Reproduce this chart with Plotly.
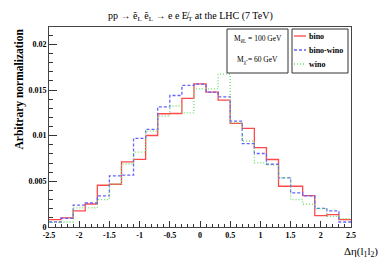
import numpy as np
import plotly.graph_objects as go

# Bin edges of delta-eta histogram (25 bins of width 0.2 from -2.5 to 2.5)
x_min, x_max, n_bins = -2.5, 2.5, 25

bino = [0.00081, 0.00100, 0.00176, 0.00252, 0.00457, 0.00468, 0.00713, 0.00740,
        0.01002, 0.01240, 0.01243, 0.01408, 0.01568, 0.01476, 0.01389, 0.01134,
        0.01079, 0.00870, 0.00739, 0.00446, 0.00446, 0.00344, 0.00125, 0.00136,
        0.00081]
bino_wino = [0.00055, 0.00096, 0.00240, 0.00263, 0.00340, 0.00560, 0.00567, 0.00970,
             0.01068, 0.01316, 0.01440, 0.01550, 0.01565, 0.01476, 0.01425, 0.01160,
             0.00914, 0.00805, 0.00687, 0.00537, 0.00373, 0.00340, 0.00205, 0.00176,
             0.00055]
wino = [0.00050, 0.00055, 0.00210, 0.00210, 0.00300, 0.00470, 0.00690, 0.00820,
        0.01050, 0.01214, 0.01325, 0.01250, 0.01512, 0.01512, 0.01674, 0.01140,
        0.00940, 0.00702, 0.00680, 0.00537, 0.00300, 0.00249, 0.00200, 0.00117,
        0.00092]

series_names = ["bino", "bino-wino", "wino"]

x_ticks = [-2.5, -2, -1.5, -1, -0.5, 0, 0.5, 1, 1.5, 2, 2.5]
x_tick_labels = ["-2.5", "-2", "-1.5", "-1", "-0.5", "0", "0.5", "1", "1.5", "2", "2.5"]
y_ticks = [0, 0.005, 0.01, 0.015, 0.02]
y_tick_labels = ["0", "0.005", "0.01", "0.015", "0.02"]

edges = np.linspace(x_min, x_max, n_bins + 1)

FONT = "Liberation Serif"
colors = ["#ff4a4a", "#6464ff", "#6cdc6c"]
dashes = ["solid", "3px,2px", "1px,2px"]

fig = go.Figure()
for name, vals, col, dash in zip(series_names, [bino, bino_wino, wino], colors, dashes):
    fig.add_trace(go.Scatter(
        x=edges, y=list(vals) + [vals[-1]], mode="lines", line_shape="hv",
        name=name, showlegend=False,
        line=dict(color=col, width=1.3, dash=dash),
    ))

# the page adds an 8px body margin; lay out in reference pixel coordinates
OFF = 8
W, H = 390 - OFF, 265 - OFF
L, R, T, B = 49, 351, 27, 227

def px(xp):
    return (xp - L) / (R - L)

def py(yp):
    return (B - yp) / (B - T)

fig.update_layout(
    width=W, height=H,
    margin=dict(l=L - OFF, r=390 - R, t=T - OFF, b=265 - B, autoexpand=False),
    paper_bgcolor="white", plot_bgcolor="white",
    font=dict(family=FONT, size=8, color="black"),
    showlegend=False,
    xaxis=dict(
        range=[x_min, x_max], tickmode="array", tickvals=x_ticks,
        ticktext=["<b>%s</b>" % t for t in x_tick_labels],
        ticks="inside", ticklen=6, tickcolor="#333333",
        minor=dict(dtick=0.1, ticks="inside", ticklen=3, tickcolor="#333333"),
        showline=True, linecolor="#444444", linewidth=1, mirror=True,
        showgrid=False, zeroline=False, automargin=False,
        tickfont=dict(family=FONT, size=8),
    ),
    yaxis=dict(
        range=[0, 0.0219], tickmode="array", tickvals=y_ticks,
        ticktext=["<b>%s</b>" % t for t in y_tick_labels],
        ticks="inside", ticklen=8, tickcolor="#333333",
        minor=dict(dtick=0.001, ticks="inside", ticklen=4, tickcolor="#333333"),
        showline=True, linecolor="#444444", linewidth=1, mirror=True,
        showgrid=False, zeroline=False, automargin=False,
        tickfont=dict(family=FONT, size=8),
    ),
)

# Title
fig.add_annotation(
    text="pp \u2192 \u1ebd<sub>L</sub> \u1ebd<sub>L</sub> \u2192 e e E\u0338<sub>T</sub> at the LHC (7 TeV)",
    xref="paper", yref="paper", x=px(190), y=py(16), xanchor="center", yanchor="middle",
    showarrow=False, font=dict(family=FONT, size=10, color="black"),
)
# Y title
fig.add_annotation(
    text="<b>Arbitrary normalization</b>",
    xref="paper", yref="paper", x=px(19), y=py(27), xanchor="center", yanchor="top",
    textangle=-90, showarrow=False, font=dict(family=FONT, size=11.5, color="black"),
)
# X title
fig.add_annotation(
    text="\u0394\u03b7(l<sub>1</sub>l<sub>2</sub>)",
    xref="paper", yref="paper", x=px(380), y=py(252), xanchor="right", yanchor="middle",
    showarrow=False, font=dict(family=FONT, size=11, color="black"),
)
# Mass info box
fig.add_shape(type="rect", xref="paper", yref="paper",
              x0=px(227), x1=px(288), y0=py(29), y1=py(73),
              line=dict(color="#333333", width=1), fillcolor="white")
fig.add_annotation(
    text="M<sub>\u1ebdL</sub> = 100 GeV", xref="paper", yref="paper",
    x=px(257.5), y=py(39), xanchor="center", yanchor="middle",
    showarrow=False, font=dict(family=FONT, size=7.5, color="black"),
)
fig.add_annotation(
    text="M<sub>\u03c7\u0303</sub> = 60 GeV", xref="paper", yref="paper",
    x=px(257.5), y=py(60), xanchor="center", yanchor="middle",
    showarrow=False, font=dict(family=FONT, size=7.5, color="black"),
)

# Legend box (drawn manually to match the compact ROOT legend)
fig.add_shape(type="rect", xref="paper", yref="paper",
              x0=px(292), x1=px(348), y0=py(29), y1=py(73),
              line=dict(color="#333333", width=1), fillcolor="white")
legend_rows = [36, 50, 64]
for name, col, dash, yr in zip(series_names, colors, dashes, legend_rows):
    fig.add_shape(type="line", xref="paper", yref="paper",
                  x0=px(294), x1=px(306), y0=py(yr), y1=py(yr),
                  line=dict(color=col, width=1.3, dash=dash))
    fig.add_annotation(
        text="<b>%s</b>" % name, xref="paper", yref="paper",
        x=px(307), y=py(yr), xanchor="left", yanchor="middle",
        showarrow=False, font=dict(family=FONT, size=8, color="black"),
    )

fig.write_html("out.html")
